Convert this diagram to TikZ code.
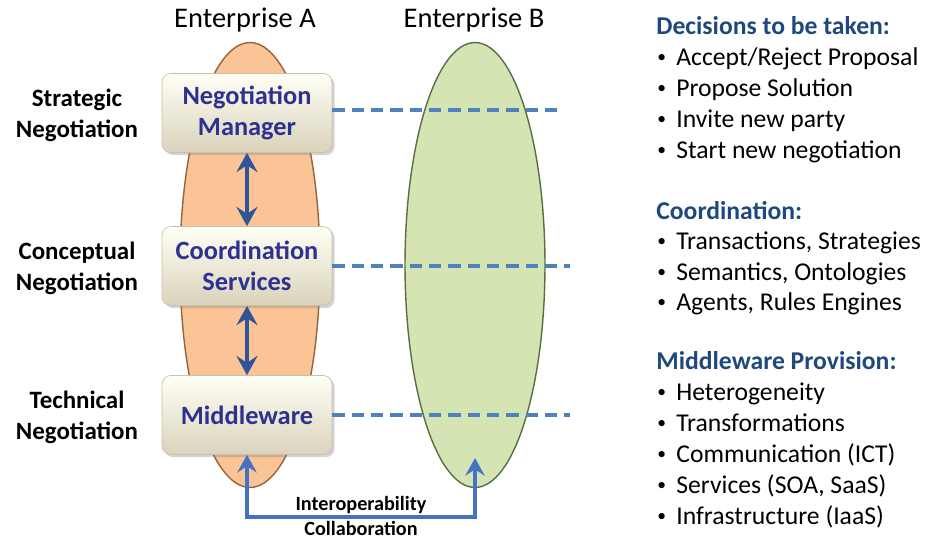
\documentclass[tikz,border=0pt]{standalone}
\usepackage{fontspec}
\setmainfont{Carlito}
\usetikzlibrary{arrows.meta,shapes.geometric,shadows}

\definecolor{boxtext}{RGB}{46,49,146}
\definecolor{headblue}{RGB}{31,73,125}
\definecolor{dashblue}{RGB}{79,129,189}
\definecolor{arrowblue}{RGB}{47,85,151}
\definecolor{linkblue}{RGB}{68,114,196}
\definecolor{orangefill}{RGB}{250,196,150}
\definecolor{orangeedge}{RGB}{150,100,60}
\definecolor{greenfill}{RGB}{212,228,178}
\definecolor{greenedge}{RGB}{90,110,70}

\newcommand{\itembullet}{\makebox[10.8pt][l]{\raisebox{1.6pt}{\fontsize{10}{10}\selectfont\textbullet}}}

\tikzset{
  enterprise/.style={ellipse, minimum width=2.8cm, minimum height=8.9cm, line width=0.8pt},
  layerbox/.style={rectangle, rounded corners=5pt, minimum width=3.4cm, minimum height=1.58cm,
    top color=white!96!yellow, bottom color={rgb,255:red,218;green,211;blue,188},
    draw={rgb,255:red,200;green,192;blue,170}, line width=0.4pt,
    drop shadow={opacity=0.35, shadow xshift=1.5pt, shadow yshift=-1.5pt},
    font=\fontsize{15}{17.5}\selectfont\bfseries, text=boxtext, align=center},
  layerlabel/.style={font=\fontsize{14.2}{17.5}\selectfont\bfseries, align=center},
  title/.style={font=\fontsize{16.2}{19}\selectfont},
  heading/.style={font=\fontsize{14.6}{17}\selectfont\bfseries, text=headblue, anchor=base west, inner sep=0pt},
  item/.style={font=\fontsize{14.6}{17}\selectfont, anchor=base west, inner sep=0pt},
  peer/.style={dashblue, line width=2pt, dash pattern=on 7pt off 4pt},
  updown/.style={arrowblue, line width=2.6pt, {Stealth[length=11pt,width=12pt,inset=4pt]}-{Stealth[length=11pt,width=12pt,inset=4pt]}},
  link/.style={linkblue, line width=2.2pt, {Stealth[length=10pt,width=11pt,inset=3.5pt]}-{Stealth[length=10pt,width=11pt,inset=3.5pt]}},
  smalllabel/.style={font=\fontsize{11.5}{13}\selectfont\bfseries, inner sep=1pt}
}

\begin{document}
\begin{tikzpicture}[x=0.02cm, y=-0.02cm]
\useasboundingbox (0,0) rectangle (936,539);

% enterprises
\node[enterprise, fill=orangefill, draw=orangeedge] (entA) at (250,265) {};
\node[enterprise, fill=greenfill, draw=greenedge] (entB) at (475,265) {};
\node[title] (titleA) at (245,20) {Enterprise A};
\node[title] (titleB) at (474,20) {Enterprise B};

% layers of enterprise A
\node[layerbox] (manager) at (247,113) {Negotiation\\Manager};
\node[layerbox] (coord) at (247,266) {Coordination\\Services};
\node[layerbox] (middle) at (247,415) {Middleware};

\node[layerlabel] (strat) at (77,115) {Strategic\\Negotiation};
\node[layerlabel] (concept) at (77,268) {Conceptual\\Negotiation};
\node[layerlabel] (tech) at (77,417) {Technical\\Negotiation};

% peer links to enterprise B
\coordinate (peerM) at (562,110);
\coordinate (peerC) at (570,266);
\coordinate (peerW) at (570,415);
\draw[peer] (manager.east |- peerM) -- (peerM);
\draw[peer] (coord.east |- peerC) -- (peerC);
\draw[peer] (middle.east |- peerW) -- (peerW);

\draw[updown] (manager.south) -- (coord.north);
\draw[updown] (coord.south) -- (middle.north);

% interoperability link
\coordinate (collB) at (475,458);
\draw[link] (middle.south) |- (361,517) -| (collB);
\node[smalllabel] (interop) at (361,505) {Interoperability};
\node[smalllabel] (collab) at (361,528) {Collaboration};

% decisions
\node[heading] (hDec) at (656,34) {Decisions to be taken:};
\foreach \txt [count=\i] in {Accept/Reject Proposal, Propose Solution, Invite new party, Start new negotiation}
  \node[item] (dec\i) at (657,34+31*\i) {\itembullet\txt};

% coordination
\node[heading] (hCoo) at (656,219) {Coordination:};
\foreach \txt [count=\i] in {{Transactions, Strategies}, {Semantics, Ontologies}, {Agents, Rules Engines}}
  \node[item] (coo\i) at (657,219+30.5*\i) {\itembullet\txt};

% middleware provision
\node[heading] (hMid) at (656,369) {Middleware Provision:};
\foreach \txt [count=\i] in {Heterogeneity, Transformations, Communication (ICT), {Services (SOA, SaaS)}, Infrastructure (IaaS)}
  \node[item] (mid\i) at (657,369+31*\i) {\itembullet\txt};

\end{tikzpicture}
\end{document}
